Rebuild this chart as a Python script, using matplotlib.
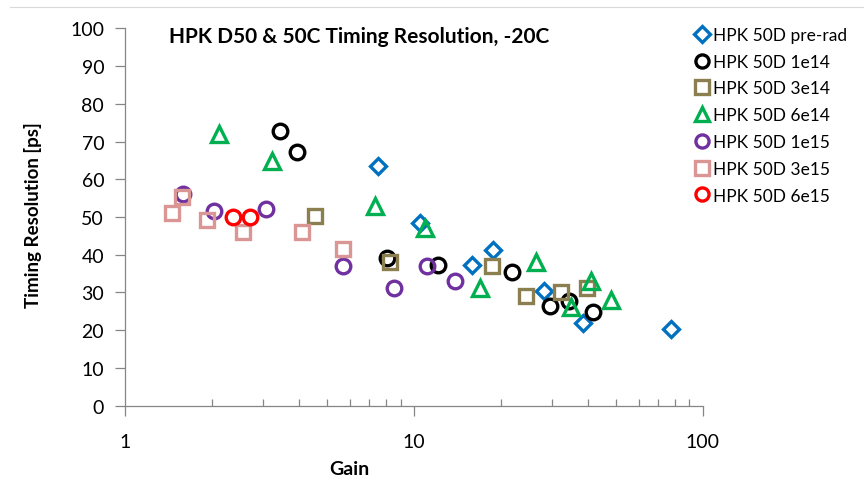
import numpy as np
import matplotlib
matplotlib.use("Agg")
import matplotlib.pyplot as plt

plt.rcParams['font.family'] = ['Lato', 'DejaVu Sans']

# gain / timing resolution [ps] per fluence
prerad_gain = [7.51, 10.5, 15.9, 18.8, 28.2, 38.4, 77.5]
prerad_res = [63.5, 48.4, 37.3, 41.3, 30.4, 21.9, 20.3]

f1e14_gain = [3.44, 3.93, 8.05, 12.1, 21.8, 29.5, 34.5, 41.7]
f1e14_res = [72.9, 67.1, 39.1, 37.4, 35.5, 26.3, 27.8, 24.9]

f3e14_gain = [4.54, 8.26, 18.7, 24.5, 32.4, 39.8]
f3e14_res = [50.2, 38.0, 36.9, 29.1, 30.2, 31.1]

f6e14_gain = [2.11, 3.22, 7.33, 10.9, 16.9, 26.4, 35.1, 40.9, 48.1]
f6e14_res = [72.0, 64.9, 53.0, 47.1, 31.1, 38.0, 26.1, 33.1, 28.1]

f1e15_gain = [1.59, 2.03, 3.08, 5.69, 8.53, 11.1, 13.9]
f1e15_res = [56.1, 51.7, 52.1, 36.9, 31.1, 36.9, 33.1]

f3e15_gain = [1.45, 1.57, 1.92, 2.57, 4.09, 5.69]
f3e15_res = [51.1, 55.2, 49.2, 46.1, 46.1, 41.5]

f6e15_gain = [2.37, 2.71]
f6e15_res = [49.9, 49.9]

series = [
    ('HPK 50D pre-rad', prerad_gain, prerad_res, 'D', '#0070C0', 8.5),
    ('HPK 50D 1e14', f1e14_gain, f1e14_res, 'o', '#000000', 10.5),
    ('HPK 50D 3e14', f3e14_gain, f3e14_res, 's', '#8C7F4F', 10.5),
    ('HPK 50D 6e14', f6e14_gain, f6e14_res, '^', '#00B050', 11.5),
    ('HPK 50D 1e15', f1e15_gain, f1e15_res, 'o', '#7030A0', 10.5),
    ('HPK 50D 3e15', f3e15_gain, f3e15_res, 's', '#D99694', 10.5),
    ('HPK 50D 6e15', f6e15_gain, f6e15_res, 'o', '#FF0000', 10.5),
]

fig = plt.figure(figsize=(8.64, 4.85), dpi=100)
ax = fig.add_axes([125/864, 1-406.7/485, 577.7/864, 377.4/485])

for label, g, r, m, c, ms in series:
    ax.plot(g, r, linestyle='none', marker=m, markersize=ms, markerfacecolor='none',
            markeredgecolor=c, markeredgewidth=2.4, label=label, clip_on=False)

ax.set_xscale('log')
ax.set_xlim(1, 100)
ax.set_ylim(0, 100)
ax.set_yticks(np.arange(0, 101, 10))
ax.set_xticks([1, 10, 100])
ax.set_xticklabels(['1', '10', '100'])

for s in ['top', 'right']:
    ax.spines[s].set_visible(False)
for s in ['left', 'bottom']:
    ax.spines[s].set_color('#868686')
    ax.spines[s].set_linewidth(0.9)

ax.tick_params(axis='y', which='major', direction='out', length=7, width=0.9,
               color='#868686', labelsize=14, pad=8)
ax.tick_params(axis='x', which='major', direction='out', length=7, width=0.9,
               color='#868686', labelsize=14, pad=13)
ax.tick_params(axis='x', which='minor', direction='in', length=5, width=0.9,
               color='#868686', labelbottom=False)

# faint chart-area border line at the top
fig.add_artist(plt.Line2D([10/864, 1], [1-8/485, 1-8/485], color='#d9d9d9', linewidth=0.8))

fig.text(169/864, 1-37/485, 'HPK D50 & 50C Timing Resolution, -20C', fontsize=15,
         fontweight='bold', ha='left', va='center')
fig.text(33/864, 1-215/485, 'Timing Resolution [ps]', fontsize=13.5, fontweight='bold',
         rotation=90, ha='center', va='center')
fig.text(349/864, 1-470/485, 'Gain', fontsize=14, fontweight='bold',
         ha='center', va='center')

ax.legend(loc='upper left', bbox_to_anchor=(688/864, 1-21/485), bbox_transform=fig.transFigure,
          frameon=False, fontsize=12.5, handlelength=0.8, handletextpad=0.25,
          labelspacing=0.62, borderaxespad=0, markerscale=0.9)

fig.savefig('out.png', dpi=100, facecolor='white')
